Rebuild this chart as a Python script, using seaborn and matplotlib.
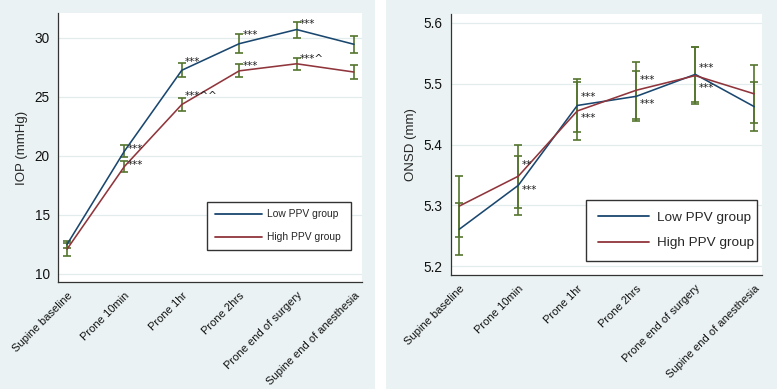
import numpy as np
import pandas as pd
import seaborn as sns
import matplotlib
matplotlib.use("Agg")
import matplotlib.pyplot as plt
from matplotlib.patches import Rectangle

# ---------------- data ----------------
timepoints = ["Supine baseline", "Prone 10min", "Prone 1hr", "Prone 2hrs",
              "Prone end of surgery", "Supine end of anesthesia"]
groups = ["Low PPV group", "High PPV group"]

iop_low = [12.5, 20.4, 27.25, 29.5, 30.7, 29.45]
iop_low_err = [0.33, 0.5, 0.6, 0.8, 0.68, 0.72]
iop_high = [12.1, 19.1, 24.35, 27.2, 27.8, 27.1]
iop_high_err = [0.55, 0.45, 0.52, 0.55, 0.5, 0.6]

onsd_low = [5.261, 5.333, 5.464, 5.479, 5.515, 5.462]
onsd_low_err = [0.043, 0.048, 0.043, 0.041, 0.045, 0.04]
onsd_high = [5.299, 5.348, 5.455, 5.489, 5.513, 5.483]
onsd_high_err = [0.05, 0.052, 0.048, 0.047, 0.047, 0.047]

iop_ann_x = [1, 1, 2, 2, 3, 3, 4, 4]
iop_ann_y = [20.6, 19.25, 27.95, 25.05, 30.25, 27.6, 31.15, 28.2]
iop_ann_txt = ["***", "***", "***", "***^^", "***", "***", "***", "***^"]

onsd_ann_x = [1, 1, 2, 2, 3, 3, 4, 4]
onsd_ann_y = [5.366, 5.325, 5.478, 5.443, 5.505, 5.467, 5.525, 5.492]
onsd_ann_txt = ["**", "***", "***", "***", "***", "***", "***", "***"]

iop_yticks = [10, 15, 20, 25, 30]
onsd_yticks = [5.2, 5.3, 5.4, 5.5, 5.6]

# ---------------- style ----------------
sns.set_theme(style="white")
plt.rcParams["font.family"] = ["Liberation Sans", "DejaVu Sans"]

BG = "#eaf2f3"
BLUE = "#1a476f"
RED = "#90353b"
GREEN = "#55752f"
palette = {groups[0]: BLUE, groups[1]: RED}

fig = plt.figure(figsize=(7.77, 3.89), dpi=100)
fig.patch.set_facecolor("white")
fig.add_artist(Rectangle((0, 0), 375 / 777, 1, transform=fig.transFigure,
                         facecolor=BG, edgecolor="none", zorder=-10))
fig.add_artist(Rectangle((386 / 777, 0), 1 - 386 / 777, 1, transform=fig.transFigure,
                         facecolor=BG, edgecolor="none", zorder=-10))

ax1 = fig.add_axes([58 / 777, 1 - 282 / 389, 304 / 777, 269 / 389])
ax2 = fig.add_axes([451 / 777, 1 - 275 / 389, 311 / 777, 261 / 389])

x = np.arange(len(timepoints))


def panel(ax, low, low_err, high, high_err, yticks, ylim, xlim, ylabel,
          ann_x, ann_y, ann_txt, tick_fs, leg_fs, leg_kw):
    df = pd.DataFrame({
        "t": np.concatenate([x, x]),
        "v": np.concatenate([low, high]),
        "g": [groups[0]] * len(x) + [groups[1]] * len(x),
    })
    sns.lineplot(data=df, x="t", y="v", hue="g", palette=palette, ax=ax,
                 linewidth=1.15, errorbar=None, zorder=3)
    ax.errorbar(x, low, yerr=low_err, fmt="none", ecolor=GREEN, elinewidth=1.2,
                capsize=3.2, capthick=1.2, zorder=2)
    ax.errorbar(x, high, yerr=high_err, fmt="none", ecolor=GREEN, elinewidth=1.2,
                capsize=3.2, capthick=1.2, zorder=2)
    for xi, yi, t in zip(ann_x, ann_y, ann_txt):
        ax.text(xi + 0.06, yi, t, fontsize=7.5, ha="left", va="center",
                color="#222222", zorder=4, family=["DejaVu Sans"])
    ax.set_facecolor("white")
    ax.set_xlim(*xlim)
    ax.set_ylim(*ylim)
    ax.set_yticks(yticks)
    ax.set_yticklabels([str(v) for v in yticks], fontsize=tick_fs)
    ax.set_xticks(x)
    ax.set_xticklabels(timepoints, rotation=45, ha="right",
                       rotation_mode="anchor", fontsize=8)
    ax.yaxis.grid(True, color="#e3eced", linewidth=0.9)
    ax.set_axisbelow(True)
    for s in ["top", "right"]:
        ax.spines[s].set_visible(False)
    for s in ["left", "bottom"]:
        ax.spines[s].set_color("#333333")
        ax.spines[s].set_linewidth(0.9)
    ax.tick_params(axis="both", direction="out", length=4, width=0.9,
                   color="#333333", colors="#111111", pad=2)
    ax.tick_params(axis="y", labelsize=tick_fs)
    ax.set_xlabel("")
    ax.set_ylabel(ylabel, fontsize=9.5, labelpad=5)
    leg = ax.legend(frameon=True, fancybox=False, fontsize=leg_fs, **leg_kw)
    leg.get_frame().set_edgecolor("#333333")
    leg.get_frame().set_linewidth(1.0)
    leg.get_frame().set_facecolor("white")
    leg.get_frame().set_alpha(1)
    for h in leg.get_lines():
        h.set_linewidth(1.3)


panel(ax1, iop_low, iop_low_err, iop_high, iop_high_err, iop_yticks,
      (9.32, 32.1), (-0.157, 5.14), "IOP (mmHg)",
      iop_ann_x, iop_ann_y, iop_ann_txt, 9.8, 7.4,
      dict(loc="lower left", bbox_to_anchor=(0.49, 0.119, 0.474, 0.219),
           mode="expand", borderpad=0.75, labelspacing=1.25,
           handlelength=4.6, handletextpad=0.5, borderaxespad=0))

panel(ax2, onsd_low, onsd_low_err, onsd_high, onsd_high_err, onsd_yticks,
      (5.186, 5.614), (-0.14, 5.13), "ONSD (mm)",
      onsd_ann_x, onsd_ann_y, onsd_ann_txt, 9.8, 9.7,
      dict(loc="lower left", bbox_to_anchor=(0.435, 0.054, 0.55, 0.24),
           mode="expand", borderpad=0.85, labelspacing=1.0,
           handlelength=3.8, handletextpad=0.6, borderaxespad=0))

fig.savefig("out.png", dpi=100, facecolor=fig.get_facecolor())
